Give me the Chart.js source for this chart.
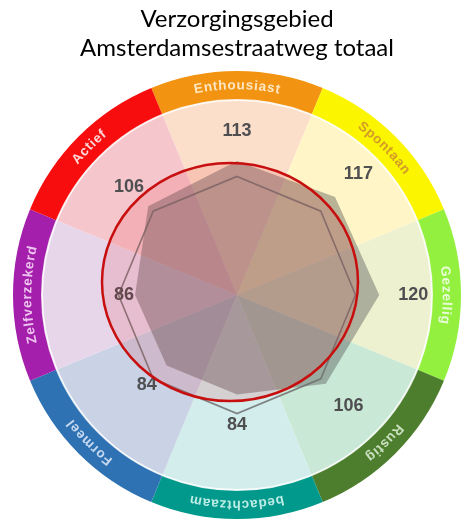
<!DOCTYPE html>
<html>
<head>
<meta charset="utf-8">
<title>Verzorgingsgebied Amsterdamsestraatweg totaal</title>
<script src="https://cdn.jsdelivr.net/npm/chart.js@4/dist/chart.umd.min.js"></script>
<style>
  html, body { margin: 0; padding: 0; background: #ffffff; }
  #wrap { width: 465px; height: 520px; }
</style>
</head>
<body>
<div id="wrap"><canvas id="chart" width="465" height="520"></canvas></div>
<script>
// Categories, clockwise from the top
const categories = ['Enthousiast', 'Spontaan', 'Gezellig', 'Rustig', 'bedachtzaam', 'Formeel', 'Zelfverzekerd', 'Actief'];
// Index scores for the service area (total)
const totaalValues = [113, 117, 120, 106, 84, 84, 86, 106];
// Reference level (index 100)
const referenceValues = [100, 100, 100, 100, 100, 100, 100, 100];

// Colour wheel styling
const wedgeColors = ['#fbdfcb', '#fff5c6', '#edf1cf', '#c9e9d6', '#d3eded', '#c9d3e5', '#e7d6ea', '#f5c7cc'];
const ringColors  = ['#f29311', '#fbf500', '#93f03f', '#4c7e2d', '#01998b', '#2f72b4', '#a41fab', '#f70d0d'];
const ringTextColors = ['rgba(255,245,225,0.85)', 'rgba(205,140,45,0.85)', 'rgba(255,255,255,0.8)', 'rgba(225,240,215,0.85)',
                        'rgba(220,250,245,0.85)', 'rgba(225,235,250,0.85)', 'rgba(250,225,250,0.85)', 'rgba(255,235,235,0.9)'];
// Extra distance (px) of each value label beyond its point
const labelOffsets = [30, 33, 34, 32, 30, 28, 11, 27];

const colorWheel = {
  id: 'colorWheel',
  beforeDatasetsDraw(chart) {
    const s = chart.scales.r;
    const ctx = chart.ctx;
    const cx = s.xCenter, cy = s.yCenter;
    const outer = s.drawingArea;
    const inner = outer - 29;
    const n = categories.length;
    const half = Math.PI / n;
    ctx.save();
    for (let i = 0; i < n; i++) {
      const a = s.getIndexAngle(i) - Math.PI / 2;
      // outer coloured band
      ctx.beginPath();
      ctx.arc(cx, cy, outer, a - half, a + half);
      ctx.arc(cx, cy, inner, a + half, a - half, true);
      ctx.closePath();
      ctx.fillStyle = ringColors[i];
      ctx.fill();
      // pastel wedge
      ctx.beginPath();
      ctx.moveTo(cx, cy);
      ctx.arc(cx, cy, inner, a - half, a + half);
      ctx.closePath();
      ctx.fillStyle = wedgeColors[i];
      ctx.fill();
    }
    ctx.beginPath();
    ctx.arc(cx, cy, inner, 0, Math.PI * 2);
    ctx.strokeStyle = 'rgba(255,255,255,0.85)';
    ctx.lineWidth = 2;
    ctx.stroke();

    // curved category names inside the band
    ctx.font = 'bold 13.5px "Liberation Sans", Arial, sans-serif';
    ctx.textAlign = 'center';
    ctx.textBaseline = 'middle';
    const r = (outer + inner) / 2;
    const spacing = 0.9;
    for (let i = 0; i < n; i++) {
      const text = categories[i];
      const chars = Array.from(text);
      const widths = chars.map(ch => ctx.measureText(ch).width);
      const total = widths.reduce((p, q) => p + q, 0) + spacing * (chars.length - 1);
      let ang = s.getIndexAngle(i) - total / (2 * r);
      ctx.fillStyle = ringTextColors[i];
      chars.forEach((ch, k) => {
        const mid = ang + widths[k] / 2 / r;
        ctx.save();
        ctx.translate(cx, cy);
        ctx.rotate(mid);
        ctx.fillText(ch, 0, -r);
        ctx.restore();
        ang += (widths[k] + spacing) / r;
      });
    }
    ctx.restore();
  },
  afterDatasetsDraw(chart, args, opts) {
    const s = chart.scales.r;
    const ctx = chart.ctx;
    ctx.save();
    // value labels
    ctx.font = 'bold 18px "Liberation Sans", Arial, sans-serif';
    ctx.textAlign = 'center';
    ctx.textBaseline = 'middle';
    ctx.fillStyle = '#4f4f52';
    totaalValues.forEach((v, i) => {
      const d = s.getDistanceFromCenterForValue(v) + labelOffsets[i];
      const p = s.getPointPosition(i, d);
      ctx.fillText(String(v), p.x, p.y);
    });
    // highlighted ellipse around the core profile
    const e = opts.ellipse;
    const ex = s.xCenter + e.offsetX, ey = s.yCenter + e.offsetY;
    const rx = s.getDistanceFromCenterForValue(e.valueX);
    const ry = s.getDistanceFromCenterForValue(e.valueY);
    ctx.beginPath();
    ctx.ellipse(ex, ey, rx, ry, 0, 0, Math.PI * 2);
    ctx.fillStyle = 'rgba(235,20,40,0.13)';
    ctx.fill();
    ctx.lineWidth = 2.5;
    ctx.strokeStyle = '#c80f0f';
    ctx.stroke();
    ctx.restore();
  }
};

new Chart(document.getElementById('chart'), {
  type: 'radar',
  data: {
    labels: categories,
    datasets: [
      {
        label: 'Index 100',
        data: referenceValues,
        fill: false,
        borderColor: 'rgba(110,110,110,0.85)',
        borderWidth: 1.6,
        pointRadius: 0,
        order: 0
      },
      {
        label: 'Amsterdamsestraatweg totaal',
        data: totaalValues,
        fill: true,
        backgroundColor: 'rgba(85,85,85,0.42)',
        borderWidth: 0,
        borderColor: 'rgba(0,0,0,0)',
        pointRadius: 0,
        order: 1
      }
    ]
  },
  options: {
    responsive: false,
    devicePixelRatio: 1,
    animation: false,
    layout: { padding: { left: 12, right: 3, top: 0, bottom: 0 } },
    elements: { line: { tension: 0 } },
    scales: {
      r: {
        min: 0,
        max: 189,
        startAngle: 0,
        grid: { display: false },
        angleLines: { display: false },
        ticks: { display: false },
        pointLabels: { display: false }
      }
    },
    plugins: {
      legend: { display: false },
      tooltip: { enabled: false },
      title: {
        display: true,
        text: ['Verzorgingsgebied', 'Amsterdamsestraatweg totaal'],
        color: '#000000',
        font: { family: 'Lato, "Open Sans", sans-serif', size: 24, weight: 'normal', lineHeight: 1.21 },
        padding: { top: 5, bottom: 7 }
      },
      colorWheel: {
        ellipse: { offsetX: -7, offsetY: -13, valueX: 108, valueY: 100.5 }
      }
    }
  },
  plugins: [colorWheel]
});
</script>
</body>
</html>
